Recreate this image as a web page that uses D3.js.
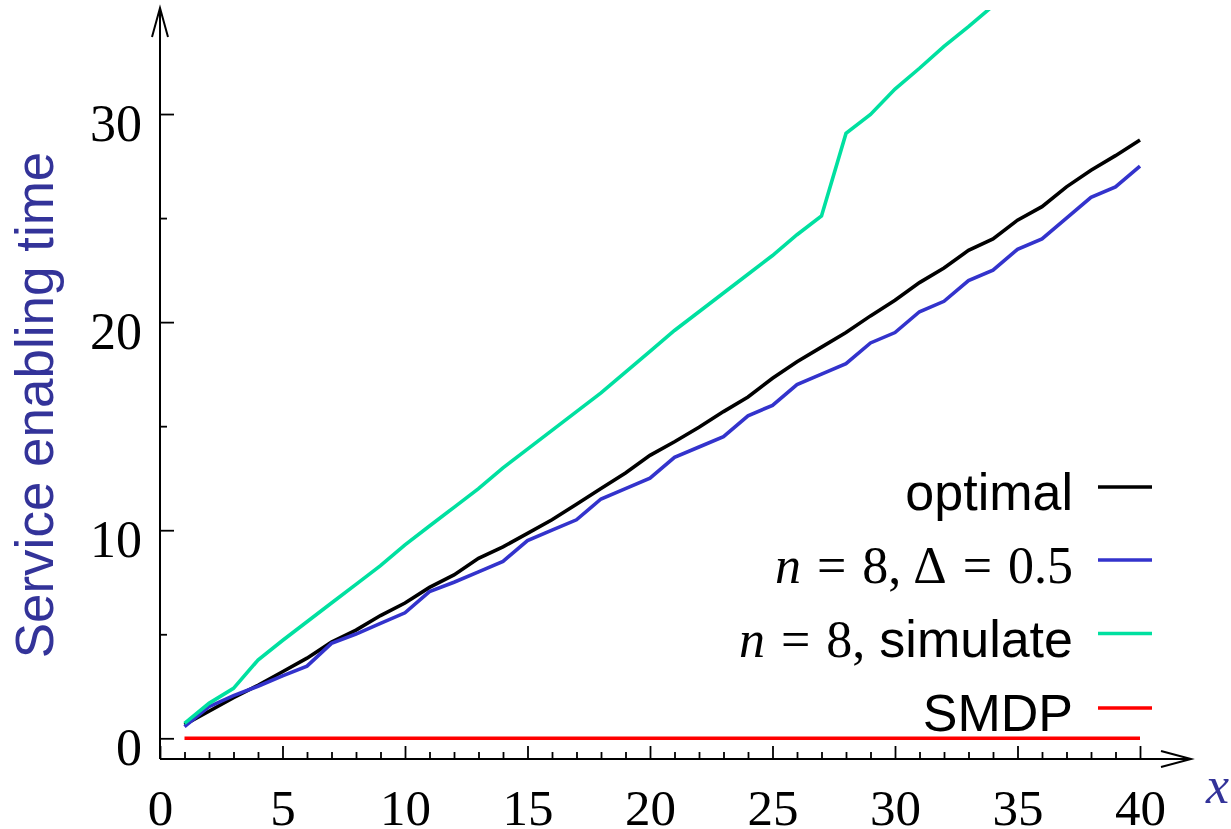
<!DOCTYPE html>
<html>
<head>
<meta charset="utf-8">
<script src="https://cdn.jsdelivr.net/npm/d3@7"></script>
<style>
  html, body { margin: 0; padding: 0; background: #fff; }
  svg { display: block; }
</style>
</head>
<body>
<svg id="chart" width="1231" height="829"></svg>
<script>
// ---- data ----
const xValues = [1,2,3,4,5,6,7,8,9,10,11,12,13,14,15,16,17,18,19,20,21,22,23,24,25,26,27,28,29,30,31,32,33,34,35,36,37,38,39,40];
const optimal = [0.65,1.3,1.95,2.55,3.2,3.85,4.62,5.2,5.9,6.5,7.25,7.85,8.65,9.2,9.85,10.5,11.25,12.0,12.75,13.6,14.25,14.95,15.7,16.4,17.3,18.1,18.8,19.5,20.3,21.05,21.9,22.6,23.45,24.0,24.9,25.55,26.5,27.3,28.0,28.75];
const delta05 = [0.56,1.52,2.05,2.5,3.0,3.47,4.56,5.01,5.52,6.03,7.05,7.5,8.0,8.5,9.5,10.0,10.5,11.5,12.0,12.5,13.5,14.0,14.5,15.5,16.0,17.0,17.5,18.0,19.0,19.5,20.5,21.0,22.0,22.5,23.5,24.0,25.0,26.0,26.5,27.5];
const simulate = [0.72,1.68,2.4,3.76,4.7,5.6,6.5,7.4,8.3,9.3,10.2,11.1,12.0,13.0,13.9,14.8,15.7,16.6,17.6,18.6,19.6,20.5,21.4,22.3,23.2,24.2,25.1,29.07,29.98,31.2,32.2,33.25,34.2,35.2];
const smdp = [0,0,0,0,0,0,0,0,0,0,0,0,0,0,0,0,0,0,0,0,0,0,0,0,0,0,0,0,0,0,0,0,0,0,0,0,0,0,0,0];
const xMajorTicks = [0,5,10,15,20,25,30,35,40];
const xMinorTicks = [1,2,3,4,6,7,8,9,11,12,13,14,16,17,18,19,21,22,23,24,26,27,28,29,31,32,33,34,36,37,38,39];
const yMajorTicks = [0,10,20,30];
const yMinorTicks = [5,15,25];
const yLabel = "Service enabling time";
const xLabel = "x";

const series = [
  {name: "optimal", values: optimal, color: "#000000"},
  {name: "delta", values: delta05, color: "#3333cc"},
  {name: "simulate", values: simulate, color: "#00e0a0"},
  {name: "SMDP", values: smdp, color: "#ff0000"}
];

// ---- layout ----
const svg = d3.select("#chart");
const x = d3.scaleLinear().domain([0, 40]).range([160, 1140]);
const y = d3.scaleLinear().domain([0, 35]).range([738.3, 10]);
const axisY0 = 759;   // pixel row of the x axis line
const axisX0 = 160;   // pixel column of the y axis line
const serif = "'Liberation Serif', 'Times New Roman', serif";
const sans = "'Liberation Sans', Arial, sans-serif";
const labelBlue = "#333399";

// clip
svg.append("defs").append("clipPath").attr("id", "plotclip")
  .append("rect").attr("x", 160).attr("y", y(35)).attr("width", 1000).attr("height", axisY0 - y(35));

// lines
const line = d3.line().x((d, i) => x(xValues[i])).y(d => y(d));
const gLines = svg.append("g").attr("clip-path", "url(#plotclip)");
series.forEach(s => {
  gLines.append("path")
    .datum(s.values)
    .attr("fill", "none")
    .attr("stroke", s.color)
    .attr("stroke-width", 3.6)
    .attr("stroke-linejoin", "miter")
    .attr("d", line);
});

// x axis: minor and major ticks (pointing up)
const gx = svg.append("g").attr("transform", `translate(0,${axisY0})`);
gx.call(d3.axisBottom(x).tickValues(xMinorTicks).tickSize(-7).tickFormat(""))
  .call(g => g.select(".domain").remove());
const gxm = svg.append("g").attr("transform", `translate(0,${axisY0})`);
gxm.call(d3.axisBottom(x).tickValues(xMajorTicks).tickSize(-13).tickPadding(30).tickFormat(d3.format("d")))
  .call(g => g.select(".domain").remove());
[gx, gxm].forEach(g => {
  g.selectAll("line").attr("stroke", "#000").attr("stroke-width", 1.8);
  g.selectAll("text").attr("font-family", serif).attr("font-size", 51).attr("fill", "#000");
});

// y axis: ticks pointing right
const gy = svg.append("g").attr("transform", `translate(${axisX0},0)`);
gy.call(d3.axisLeft(y).tickValues(yMinorTicks).tickSize(-7).tickFormat(""))
  .call(g => g.select(".domain").remove());
const gym = svg.append("g").attr("transform", `translate(${axisX0},0)`);
gym.call(d3.axisLeft(y).tickValues(yMajorTicks).tickSize(-14).tickPadding(18).tickFormat(d3.format("d")))
  .call(g => g.select(".domain").remove());
[gy, gym].forEach(g => {
  g.selectAll("line").attr("stroke", "#000").attr("stroke-width", 1.8);
  g.selectAll("text").attr("font-family", serif).attr("font-size", 52).attr("fill", "#000").attr("dy", "0.5em");
});

// axis lines with arrows
function axisStroke(sel) { return sel.attr("stroke", "#000").attr("stroke-width", 2).attr("fill", "none"); }
axisStroke(svg.append("line").attr("x1", axisX0).attr("y1", axisY0).attr("x2", 1191).attr("y2", axisY0));
axisStroke(svg.append("path").attr("d", `M1161,${axisY0 - 8}L1191,${axisY0}L1161,${axisY0 + 8}`));
axisStroke(svg.append("line").attr("x1", axisX0).attr("y1", axisY0).attr("x2", axisX0).attr("y2", 8));
axisStroke(svg.append("path").attr("d", `M${axisX0 - 8},37L${axisX0},8L${axisX0 + 8},37`));

// axis titles
svg.append("text")
  .attr("transform", `translate(53,405) rotate(-90)`)
  .attr("text-anchor", "middle")
  .attr("font-family", sans).attr("font-size", 53)
  .attr("fill", labelBlue)
  .text(yLabel);
svg.append("text")
  .attr("x", 1206).attr("y", 803)
  .attr("font-family", serif).attr("font-style", "italic").attr("font-size", 52)
  .attr("fill", labelBlue)
  .text(xLabel);

// legend
const legendRows = [
  {y: 487, color: "#000000", parts: [{t: "optimal", f: sans}]},
  {y: 560, color: "#3333cc", parts: [
    {t: "n", f: serif, i: true}, {t: "=", f: serif, dx: 16}, {t: "8,", f: serif, dx: 16},
    {t: "\u0394", f: serif, dx: 12}, {t: "=", f: serif, dx: 16}, {t: "0.5", f: serif, dx: 16}]},
  {y: 633.5, color: "#00e0a0", parts: [
    {t: "n", f: serif, i: true}, {t: "=", f: serif, dx: 16}, {t: "8,", f: serif, dx: 16},
    {t: "simulate", f: sans, dx: 14}]},
  {y: 708, color: "#ff0000", parts: [{t: "SMDP", f: sans}]}
];
const gl = svg.append("g");
legendRows.forEach(r => {
  const t = gl.append("text")
    .attr("x", 1073).attr("y", r.y + 23)
    .attr("text-anchor", "end")
    .attr("font-size", 52).attr("fill", "#000");
  r.parts.forEach(p => {
    const ts = t.append("tspan").attr("font-family", p.f).attr("font-style", p.i ? "italic" : "normal");
    if (p.dx) ts.attr("dx", p.dx);
    ts.text(p.t);
  });
  gl.append("line").attr("x1", 1098).attr("x2", 1152).attr("y1", r.y).attr("y2", r.y)
    .attr("stroke", r.color).attr("stroke-width", 3.6);
});
</script>
</body>
</html>
